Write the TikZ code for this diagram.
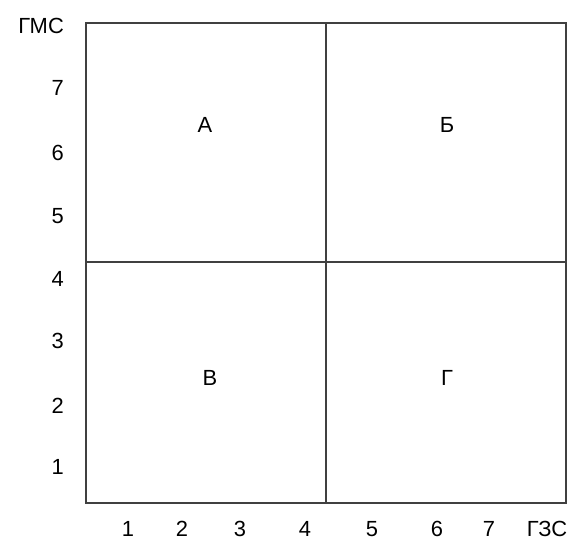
\documentclass[tikz,border=0pt]{standalone}
\usepackage{fontspec}
\setmainfont{Liberation Sans}
\tikzset{
    frame/.style={line width=1.5pt,draw=black!75},
    lbl/.style={font=\fontsize{22}{26}\selectfont,inner sep=0pt,anchor=base},
    ylbl/.style={lbl,anchor=base east},
}
\begin{document}
\begin{tikzpicture}[x=1bp,y=-1bp]
        \useasboundingbox (0,0) rectangle (571,540);

        % field and its quarters
        \draw[frame] (86,23) rectangle (566,503);
        \draw[frame] (326,23) -- (326,503);
        \draw[frame] (86,262) -- (566,262);

        \node[lbl] (qa) at (205,133) {А};
        \node[lbl] (qb) at (447,133) {Б};
        \node[lbl] (qv) at (210,385) {В};
        \node[lbl] (qg) at (447,385) {Г};

        % vertical scale
        \node[ylbl] (gms) at (64,34) {ГМС};
        \node[ylbl] (y7) at (64,96) {7};
        \node[ylbl] (y6) at (64,161) {6};
        \node[ylbl] (y5) at (64,224) {5};
        \node[ylbl] (y4) at (64,286) {4};
        \node[ylbl] (y3) at (64,348) {3};
        \node[ylbl] (y2) at (64,413) {2};
        \node[ylbl] (y1) at (64,474) {1};

        % horizontal scale
        \node[lbl] (x1) at (128,536) {1};
        \node[lbl] (x2) at (182,536) {2};
        \node[lbl] (x3) at (240,536) {3};
        \node[lbl] (x4) at (305,536) {4};
        \node[lbl] (x5) at (372,536) {5};
        \node[lbl] (x6) at (437,536) {6};
        \node[lbl] (x7) at (489,536) {7};
        \node[lbl] (gzs) at (547,536) {ГЗС};
    \end{tikzpicture}
\end{document}
